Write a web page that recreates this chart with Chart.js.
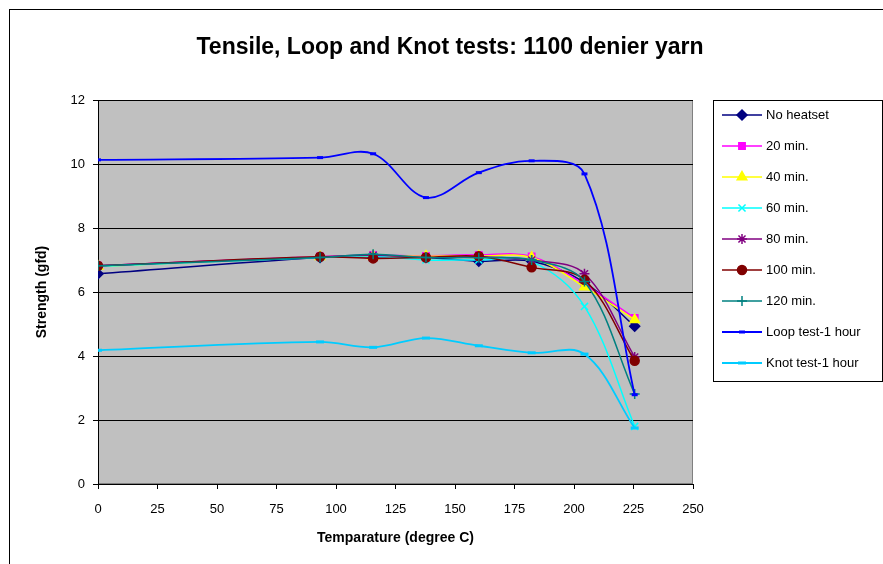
<!DOCTYPE html>
<html>
<head>
<meta charset="utf-8">
<script src="https://cdn.jsdelivr.net/npm/chart.js@4/dist/chart.umd.min.js"></script>
<style>
html,body{margin:0;padding:0;background:#fff;}
#wrap{width:883px;height:564px;position:relative;}
</style>
</head>
<body>
<div id="wrap"><canvas id="c" width="883" height="564"></canvas></div>
<script>
const temperatures = [0, 93.3, 115.6, 137.8, 160, 182.2, 204.4, 225.5];
const noHeatset = [6.57, 7.08, 7.10, 7.08, 6.96, 6.96, 6.30, 4.93];
const min20 = [6.82, 7.11, 7.15, 7.13, 7.16, 7.11, 6.23, 5.19];
const min40 = [6.80, 7.10, 7.12, 7.12, 7.12, 7.08, 6.16, 5.13];
const min60 = [6.80, 7.08, 7.12, 7.00, 7.00, 6.95, 5.55, 1.80];
const min80 = [6.82, 7.10, 7.15, 7.08, 7.10, 7.00, 6.57, 3.97];
const min100 = [6.82, 7.10, 7.05, 7.08, 7.12, 6.77, 6.38, 3.85];
const min120 = [6.82, 7.08, 7.18, 7.08, 7.07, 7.00, 6.33, 2.81];
const loopTest = [10.13, 10.20, 10.32, 8.95, 9.73, 10.10, 9.69, 2.79];
const knotTest = [4.18, 4.44, 4.27, 4.56, 4.32, 4.10, 4.06, 1.75];
const seriesNames = ["No heatset", "20 min.", "40 min.", "60 min.", "80 min.", "100 min.", "120 min.", "Loop test-1 hour", "Knot test-1 hour"];
const xTicks = [0, 25, 50, 75, 100, 125, 150, 175, 200, 225, 250];
const yTicks = [0, 2, 4, 6, 8, 10, 12];
const chartTitle = 'Tensile, Loop and Knot tests: 1100 denier yarn';

const FONT = "'Liberation Sans', Arial, sans-serif";
const allValues = [noHeatset, min20, min40, min60, min80, min100, min120, loopTest, knotTest];
const styles = [
  {c:'#000080', p:'rectRot', r:5, bw:1.5},
  {c:'#FF00FF', p:'rect', r:4.5, bw:1.5},
  {c:'#FFFF00', p:'triangle', r:5.5, bw:1.5},
  {c:'#00FFFF', p:'crossRot', r:5, bw:1.5},
  {c:'#800080', p:'star', r:5, bw:1.5},
  {c:'#800000', p:'circle', r:4.5, bw:1.5},
  {c:'#008080', p:'cross', r:5, bw:1.5},
  {c:'#0000FF', p:'line', r:3, bw:1.8, pbw:3},
  {c:'#00CCFF', p:'line', r:4, bw:1.8, pbw:3}
];

const datasets = allValues.map((vals, i) => ({
  label: seriesNames[i],
  data: vals.map((v, k) => ({x: temperatures[k], y: v})),
  borderColor: styles[i].c,
  backgroundColor: styles[i].c,
  borderWidth: styles[i].bw,
  pointStyle: styles[i].p,
  pointRadius: styles[i].r,
  pointBorderWidth: styles[i].pbw || 1.5,
  pointBackgroundColor: styles[i].c,
  pointBorderColor: styles[i].c,
  tension: 0.35,
  fill: false,
  order: 20 - i
}));

const bgPlugin = {
  id: 'bg',
  beforeDraw(chart) {
    const ctx = chart.ctx, a = chart.chartArea;
    ctx.save();
    ctx.fillStyle = '#fff';
    ctx.fillRect(0, 0, chart.width, chart.height);
    ctx.fillStyle = '#C0C0C0';
    ctx.fillRect(a.left, a.top, a.right - a.left, a.bottom - a.top);
    ctx.strokeStyle = '#808080';
    ctx.lineWidth = 1;
    ctx.strokeRect(a.left + 0.5, a.top + 0.5, a.right - a.left - 1, a.bottom - a.top - 1);
    ctx.restore();
  },
  afterDraw(chart) {
    const ctx = chart.ctx;
    ctx.save();
    ctx.strokeStyle = '#000';
    ctx.lineWidth = 1;
    ctx.strokeRect(9.5, 9.5, 1000, 1000);
    // title
    ctx.fillStyle = '#000';
    ctx.font = 'bold 23px ' + FONT;
    ctx.textAlign = 'center';
    ctx.textBaseline = 'middle';
    ctx.fillText(chartTitle, 450, 48);
    // legend
    ctx.strokeRect(713.5, 100.5, 169, 281);
    chart.data.datasets.forEach((ds, i) => {
      const y = 115 + 31 * i;
      ctx.beginPath();
      ctx.strokeStyle = ds.borderColor;
      ctx.lineWidth = ds.borderWidth;
      ctx.moveTo(722, y);
      ctx.lineTo(762, y);
      ctx.stroke();
      if (Chart.helpers && Chart.helpers.drawPoint) {
        ctx.fillStyle = ds.pointBackgroundColor;
        ctx.strokeStyle = ds.pointBorderColor;
        ctx.lineWidth = ds.pointBorderWidth;
        Chart.helpers.drawPoint(ctx, {pointStyle: ds.pointStyle, radius: ds.pointRadius, borderWidth: ds.pointBorderWidth, rotation: 0}, 742, y);
      }
      ctx.fillStyle = '#000';
      ctx.font = '13px ' + FONT;
      ctx.textBaseline = 'middle';
      ctx.textAlign = 'left';
      ctx.fillText(ds.label, 766, y);
    });
    ctx.restore();
  }
};

new Chart(document.getElementById('c'), {
  type: 'line',
  data: {datasets},
  options: {
    responsive: false,
    animation: false,
    devicePixelRatio: 1,
    layout: {padding: {left: 0, right: 190, top: 100, bottom: 13}},
    plugins: {
      legend: {display: false},
      tooltip: {enabled: false},
      title: {display: false}
    },
    scales: {
      x: {
        type: 'linear',
        min: 0, max: 250,
        afterBuildTicks(scale) { scale.ticks = xTicks.map(v => ({value: v})); },
        afterFit(scale) { scale.height = 67; },
        ticks: {color: '#000', font: {family: FONT, size: 13}, padding: 13, maxRotation: 0},
        grid: {drawOnChartArea: false, color: '#000', tickLength: 5},
        border: {color: '#000', width: 1},
        title: {display: true, text: 'Temparature (degree C)', color: '#000', font: {family: FONT, size: 14, weight: 'bold'}, padding: {top: 8}}
      },
      y: {
        min: 0, max: 12,
        afterBuildTicks(scale) { scale.ticks = yTicks.map(v => ({value: v})); },
        afterFit(scale) { scale.width = 98; },
        ticks: {color: '#000', font: {family: FONT, size: 13}, padding: 8},
        grid: {color: '#000', tickLength: 5},
        border: {color: '#000', width: 1},
        title: {display: true, text: 'Strength (gfd)', color: '#000', font: {family: FONT, size: 14, weight: 'bold'}, padding: {top: 34, bottom: 0}}
      }
    }
  },
  plugins: [bgPlugin]
});
</script>
</body>
</html>
